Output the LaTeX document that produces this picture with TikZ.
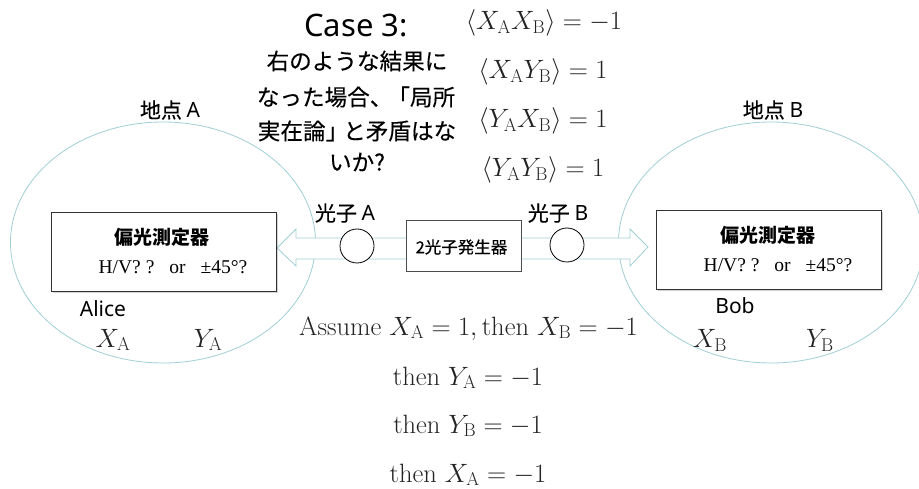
\RequirePackage{fix-cm}
\documentclass[tikz,border=0pt]{standalone}
\usepackage{fontspec}
\newfontfamily\jp{Noto Sans CJK JP}
\newfontfamily\jpm[FakeBold=0.35]{Noto Sans CJK JP}
\newfontfamily\ns{Noto Sans}
\newfontfamily\tms{Liberation Serif}
\usetikzlibrary{shadows,shapes.geometric}
\definecolor{zonecol}{RGB}{160,206,213}
\definecolor{eqcol}{RGB}{35,35,35}
\begin{document}
\begin{tikzpicture}[x=1pt,y=-1pt,
  zone/.style={ellipse, draw=zonecol, line width=0.8pt, minimum width=305pt, minimum height=241pt, inner sep=0pt},
  meter/.style={draw=black!80, fill=white, line width=0.8pt, minimum width=225pt, minimum height=79pt, inner sep=0pt,
    drop shadow={shadow xshift=1.6pt, shadow yshift=-1.8pt, opacity=0.35}},
  genbox/.style={draw=black!70, fill=white, line width=0.8pt, minimum width=115pt, minimum height=51pt, inner sep=0pt,
    drop shadow={shadow xshift=1.2pt, shadow yshift=-1.2pt, opacity=0.2}},
  photon/.style={circle, draw=black, fill=white, line width=0.8pt, minimum size=34pt, inner sep=0pt},
  barrow/.style={draw=zonecol, fill=white, line width=0.8pt, line join=miter},
  jlabel/.style={inner sep=0pt, font=\jpm\fontsize{21}{25}\selectfont},
  mtitle/.style={inner sep=0pt, font=\jp\bfseries\fontsize{19}{22}\selectfont},
  mline/.style={inner sep=0pt, font=\tms\fontsize{19.5}{23}\selectfont},
  qline/.style={inner sep=0pt, font=\jpm\fontsize{22.6}{27}\selectfont},
  eq/.style={inner sep=0pt, anchor=base, text=eqcol, font=\fontsize{26.5}{31}\selectfont},
  who/.style={inner sep=0pt, font=\ns\fontsize{21}{25}\selectfont}
]
\useasboundingbox (0,0) rectangle (919,489);

% zones
\node[zone] (zoneA) at (163,242.5) {};
\node[zone] (zoneB) at (771,242.5) {};
\node[jlabel] (lblA) at (170,110) {地点 {\ns A}};
\node[jlabel] (lblB) at (773,110) {地点 {\ns B}};

% block arrows
\draw[barrow] (406,238) -- (296,238) -- (296,229) -- (277,248) -- (296,266) -- (296,259) -- (406,259);
\draw[barrow] (521,238) -- (630,238) -- (630,229) -- (648,247) -- (630,266) -- (630,259) -- (521,259);

% meters
\node[meter] (meterA) at (163.5,251.5) {};
\node[mtitle] (mtA) at (162,237) {偏光測定器};
\node[mline] (mlA) at (173,267) {H/V? ?\hspace{15pt}or\hspace{15pt}±45°?};
\node[meter] (meterB) at (768.5,249.5) {};
\node[mtitle] (mtB) at (768,235) {偏光測定器};
\node[mline] (mlB) at (778,265) {H/V? ?\hspace{15pt}or\hspace{15pt}±45°?};

% source
\node[genbox] (gen) at (463.5,245.5) {};
\node[inner sep=0pt, font=\jpm\fontsize{16.5}{19}\selectfont] (gentxt) at (461.5,247) {2光子発生器};

% photons
\node[photon] (phA) at (357,246) {};
\node[photon] (phB) at (567,245) {};
\node[jlabel] (lphA) at (345,213) {光子 {\ns A}};
\node[jlabel] (lphB) at (558,213) {光子 {\ns B}};

% people
\node[who] (alice) at (103,309) {Alice};
\node[who] (bob) at (735,306) {Bob};
\node[eq] (xa) at (113,347) {$X_{\mathrm{A}}$};
\node[eq] (ya) at (208,347) {$Y_{\mathrm{A}}$};
\node[eq] (xb) at (710,348) {$X_{\mathrm{B}}$};
\node[eq] (yb) at (820,348) {$Y_{\mathrm{B}}$};

% question
\node[inner sep=0pt, font=\ns\fontsize{31}{36}\selectfont] (case) at (356,25) {Case 3:};
\node[qline] (q1) at (357,61) {右のような結果に};
\node[qline] (q2) at (356,97) {なった場合、\hspace{-5pt}「局所};
\node[qline] (q3) at (357,131) {実在論」\hspace{-5pt}と矛盾はな};
\node[qline] (q4) at (357,162) {いか?};

% correlations
\node[eq] (c1) at (544,30) {$\langle X_{\mathrm{A}}X_{\mathrm{B}}\rangle = -1$};
\node[eq] (c2) at (543,79) {$\langle X_{\mathrm{A}}Y_{\mathrm{B}}\rangle = 1$};
\node[eq] (c3) at (543,128) {$\langle Y_{\mathrm{A}}X_{\mathrm{B}}\rangle = 1$};
\node[eq] (c4) at (543,177) {$\langle Y_{\mathrm{A}}Y_{\mathrm{B}}\rangle = 1$};

% reasoning
\node[eq] (r1) at (468.5,335) {Assume $X_{\mathrm{A}}=1, \mathrm{then}\ X_{\mathrm{B}}=-1$};
\node[eq] (r2) at (468,385) {then $Y_{\mathrm{A}}=-1$};
\node[eq] (r3) at (468,433) {then $Y_{\mathrm{B}}=-1$};
\node[eq] (r4) at (468,482) {then $X_{\mathrm{A}}=-1$};
\end{tikzpicture}
\end{document}
